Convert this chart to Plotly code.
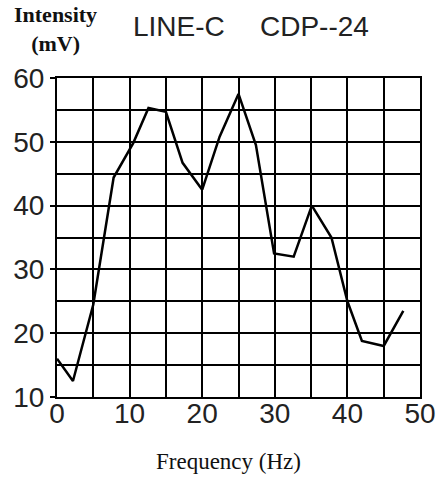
import plotly.graph_objects as go

freq = [0, 2.2, 5, 7.8, 10.5, 12.6, 15, 17.3, 20, 22.4, 25, 27.4, 29.9, 32.6, 35.1, 37.8, 40, 42, 45, 47.7]
intensity = [16, 12.5, 24.5, 44.4, 49.8, 55.3, 54.7, 46.7, 42.5, 50.8, 57.5, 49.5, 32.5, 32, 40, 35, 25, 18.8, 18, 23.5]
x_ticks = [0, 10, 20, 30, 40, 50]
y_ticks = [10, 20, 30, 40, 50, 60]

W, H = 448, 481
L, R, T, B = 57, 429, 78, 397

def px(x):
    return (x - L) / (R - L)

def py(y):
    return (B - y) / (B - T)

fig = go.Figure()
fig.add_trace(go.Scatter(x=freq, y=intensity, mode="lines",
                         line=dict(color="black", width=2.5), showlegend=False))

tickfont = dict(family="Liberation Sans", size=28, color="#222")
serif = dict(family="Liberation Serif", size=22, color="#111")

def ann(text, x, y, font, xanchor="center"):
    return dict(text=text, x=px(x), y=py(y), xref="paper", yref="paper",
                xanchor=xanchor, yanchor="middle", showarrow=False, font=font)

fig.update_layout(
    width=W, height=H,
    margin=dict(l=L, r=W - R, t=T, b=H - B),
    paper_bgcolor="white", plot_bgcolor="white",
    xaxis=dict(range=[0, 50], tickvals=x_ticks, showgrid=True, gridcolor="black", gridwidth=2,
               minor=dict(dtick=5, showgrid=True, gridcolor="black", gridwidth=2),
               showline=True, linecolor="black", linewidth=2, mirror=True,
               ticks="", tickfont=tickfont, zeroline=False, ticklabelstandoff=-10),
    yaxis=dict(range=[10, 60], tickvals=y_ticks, showgrid=True, gridcolor="black", gridwidth=2,
               minor=dict(dtick=5, showgrid=True, gridcolor="black", gridwidth=2),
               showline=True, linecolor="black", linewidth=2, mirror=True,
               ticks="outside", ticklen=5, tickwidth=2, tickcolor="black",
               tickfont=tickfont, zeroline=False),
    annotations=[
        ann("<b>Intensity<br>(mV)</b>", 55, 29, serif),
        ann("LINE-C", 133, 27, dict(family="Liberation Sans", size=28, color="#222"), "left"),
        ann("CDP--24", 263, 27, dict(family="Liberation Sans", size=28, color="#222"), "left"),
        ann("Frequency (Hz)", 233, 461, dict(family="Liberation Serif", size=23, color="#111")),
    ],
)

fig.write_html("out.html")
